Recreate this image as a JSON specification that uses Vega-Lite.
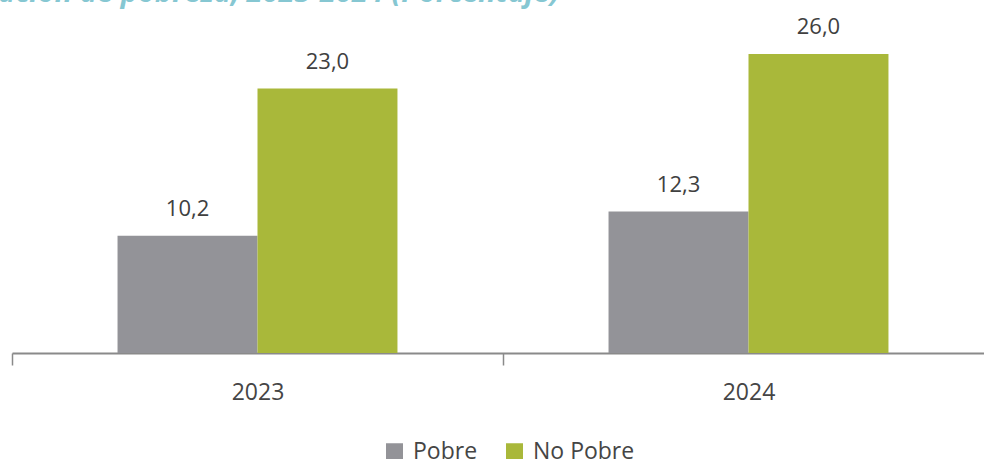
{
  "$schema": "https://vega.github.io/schema/vega-lite/v6.json",
  "width": 982,
  "height": 345,
  "autosize": {"type": "none"},
  "padding": {"left": 12, "top": 8, "right": 0, "bottom": 106},
  "background": "white",
  "config": {
    "view": {"stroke": null},
    "locale": {"number": {"decimal": ",", "thousands": ".", "grouping": [3], "currency": ["", ""]}},
    "font": "Open Sans"
  },
  "title": {
    "text": "ación de pobreza, 2023-2024 (Porcentaje)",
    "anchor": "start",
    "frame": "group",
    "dx": -14,
    "dy": 23,
    "offset": 0,
    "baseline": "alphabetic",
    "font": "Open Sans",
    "fontSize": 29,
    "fontStyle": "italic",
    "fontWeight": "bold",
    "color": "#86c7d2"
  },
  "data": {
    "values": [
      {"year": "2023", "grupo": "Pobre", "valor": 10.2},
      {"year": "2023", "grupo": "No Pobre", "valor": 23.0},
      {"year": "2024", "grupo": "Pobre", "valor": 12.3},
      {"year": "2024", "grupo": "No Pobre", "valor": 26.0}
    ]
  },
  "encoding": {
    "x": {
      "field": "year",
      "type": "nominal",
      "scale": {"paddingInner": 0, "paddingOuter": 0},
      "axis": {
        "title": null,
        "labelAngle": 0,
        "domainColor": "#8a8a8a",
        "domainWidth": 2,
        "tickColor": "#8a8a8a",
        "tickWidth": 1.5,
        "tickSize": 12,
        "tickBand": "extent",
        "labelFontSize": 23,
        "labelColor": "#454545",
        "labelPadding": 16,
        "labelFont": "Open Sans"
      }
    },
    "xOffset": {
      "field": "grupo",
      "type": "nominal",
      "sort": ["Pobre", "No Pobre"],
      "scale": {"paddingInner": 0, "paddingOuter": 0.754}
    },
    "y": {
      "field": "valor",
      "type": "quantitative",
      "scale": {"domain": [0, 30]},
      "axis": null
    }
  },
  "layer": [
    {
      "mark": {"type": "bar"},
      "encoding": {
        "color": {
          "field": "grupo",
          "type": "nominal",
          "sort": ["Pobre", "No Pobre"],
          "scale": {"domain": ["Pobre", "No Pobre"], "range": ["#939398", "#a9b83a"]},
          "legend": {
            "title": null,
            "orient": "none",
            "legendX": 371,
            "legendY": 432,
            "padding": 0,
            "direction": "horizontal",
            "symbolType": "square",
            "symbolSize": 289,
            "symbolStrokeWidth": 0,
            "labelFontSize": 23,
            "labelColor": "#454545",
            "labelFont": "Open Sans",
            "columnPadding": 25,
            "labelOffset": 7
          }
        }
      }
    },
    {
      "mark": {"type": "text", "dy": -27, "fontSize": 22, "color": "#404040", "font": "Open Sans"},
      "encoding": {
        "text": {"field": "valor", "type": "quantitative", "format": ".1f"}
      }
    }
  ]
}
